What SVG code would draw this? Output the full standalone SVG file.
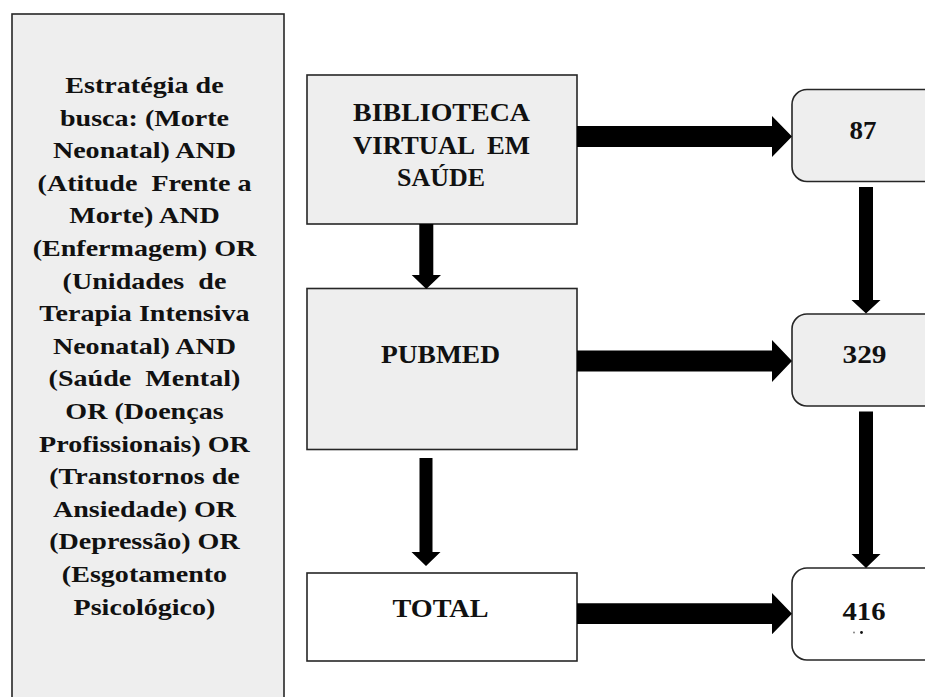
<svg xmlns="http://www.w3.org/2000/svg" width="925" height="697" viewBox="0 0 925 697">
<style>
.box{fill:#eeeeee;stroke:#262626;stroke-width:1.6}
.wbox{fill:#ffffff;stroke:#262626;stroke-width:1.6}
.t{font-family:"Liberation Serif","Times New Roman",serif;font-weight:bold;fill:#111111;text-anchor:middle}
.lt{font-size:24px}
.rt{font-size:26px}
.arrow{fill:#000000}
</style>
<rect width="925" height="697" fill="#ffffff"/>
<g id="strategy">
<rect class="box" x="12" y="14" width="272" height="700"/>
<g transform="translate(148,0) scale(1.17,1)">
<text class="t lt" xml:space="preserve">
<tspan x="0" y="93">Estratégia de</tspan>
<tspan x="0" y="125.6">busca: (Morte</tspan>
<tspan x="0" y="158.2">Neonatal) AND</tspan>
<tspan x="0" y="190.8">(Atitude  Frente a</tspan>
<tspan x="0" y="223.4">Morte) AND</tspan>
<tspan x="0" y="256">(Enfermagem) OR</tspan>
<tspan x="0" y="288.6">(Unidades  de</tspan>
<tspan x="0" y="321.2">Terapia Intensiva</tspan>
<tspan x="0" y="353.8">Neonatal) AND</tspan>
<tspan x="0" y="386.4">(Saúde  Mental)</tspan>
<tspan x="0" y="419">OR (Doenças</tspan>
<tspan x="0" y="451.6">Profissionais) OR</tspan>
<tspan x="0" y="484.2">(Transtornos de</tspan>
<tspan x="0" y="516.8">Ansiedade) OR</tspan>
<tspan x="0" y="549.4">(Depressão) OR</tspan>
<tspan x="0" y="582">(Esgotamento</tspan>
<tspan x="0" y="614.6">Psicológico)</tspan>
</text>
</g>
</g>
<g id="bvs">
<rect class="box" x="307" y="75" width="270" height="149"/>
<text class="t rt" x="441.5" y="121" textLength="177" lengthAdjust="spacingAndGlyphs">BIBLIOTECA</text>
<text class="t rt" x="441.5" y="153.5" textLength="177" lengthAdjust="spacingAndGlyphs" xml:space="preserve">VIRTUAL  EM</text>
<text class="t rt" x="441" y="186" textLength="88" lengthAdjust="spacingAndGlyphs">SAÚDE</text>
</g>
<g id="pubmed">
<rect class="box" x="307" y="288.5" width="270" height="161"/>
<text class="t rt" x="440.5" y="363.3" textLength="119" lengthAdjust="spacingAndGlyphs">PUBMED</text>
</g>
<g id="total">
<rect class="wbox" x="307" y="573" width="270" height="88"/>
<text class="t rt" x="440.5" y="616.7" textLength="96" lengthAdjust="spacingAndGlyphs">TOTAL</text>
</g>
<g id="n87">
<rect class="box" x="792" y="89.5" width="160" height="92" rx="15" ry="15"/>
<text class="t rt" x="863" y="139.3" textLength="27" lengthAdjust="spacingAndGlyphs">87</text>
</g>
<g id="n329">
<rect class="box" x="792" y="314" width="160" height="92" rx="15" ry="15"/>
<text class="t rt" x="864.5" y="363.3" textLength="44" lengthAdjust="spacingAndGlyphs">329</text>
</g>
<g id="n416">
<rect class="wbox" x="792" y="568" width="160" height="92" rx="15" ry="15"/>
<text class="t rt" x="864" y="620" textLength="43" lengthAdjust="spacingAndGlyphs">416</text>
<circle cx="854" cy="632.5" r="0.9" fill="#777777"/>
<circle cx="861.5" cy="632.5" r="1.4" fill="#111111"/>
</g>
<g id="connectors" class="arrow">
<polygon points="577,126 772,126 772,116 792,136.5 772,157 772,147 577,147"/>
<polygon points="577,350.5 772,350.5 772,340 792,361 772,382 772,371.5 577,371.5"/>
<polygon points="577,603.3 772,603.3 772,593 792,613.7 772,634.3 772,624 577,624"/>
<polygon points="419.3,224 433.3,224 433.3,275 441,275 426.3,289 411.7,275 419.3,275"/>
<polygon points="419.5,458 432.5,458 432.5,552 440.5,552 426,566 411.5,552 419.5,552"/>
<polygon points="859,187 873,187 873,300 880.5,300 866,313.5 851.5,300 859,300"/>
<polygon points="859,411.5 873,411.5 873,554 880.5,554 866,568 851.5,554 859,554"/>
</g>
</svg>
